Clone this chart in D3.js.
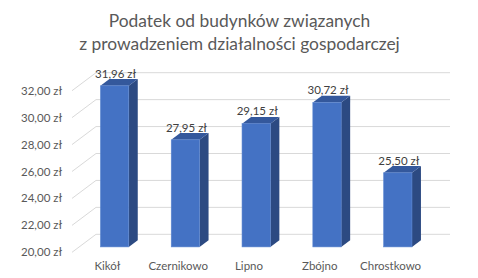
<!DOCTYPE html>
<html>
<head>
<meta charset="utf-8">
<script src="https://cdn.jsdelivr.net/npm/d3@7"></script>
<style>
  body { margin: 0; background: #fff; }
  svg { font-family: Lato, "Open Sans", sans-serif; }
</style>
</head>
<body>
<svg id="chart"></svg>
<script>
// Chart data
const titleLines = ['Podatek od budynków związanych', 'z prowadzeniem działalności gospodarczej'];
const categories = ['Kikół', 'Czernikowo', 'Lipno', 'Zbójno', 'Chrostkowo'];
const values = [31.96, 27.95, 29.15, 30.72, 25.50];
const yTicks = [20, 22, 24, 26, 28, 30, 32];

const width = 478, height = 278;
// depth of the back wall (oblique projection)
const depth = { dx: 24, dy: -18 };
const barFront = 0.3, barBack = 0.675;

const fmt = v => d3.format('.2f')(v).replace('.', ',') + ' zł';

const svg = d3.select('#chart')
    .attr('width', width)
    .attr('height', height);

// Scales on the front plane
const yScale = d3.scaleLinear()
    .domain([20, 32])
    .range([252.3, 90.7]);

const xScale = d3.scaleBand()
    .domain(categories)
    .range([72, 426])
    .padding(0);

const barW = xScale.bandwidth() * 0.4;

// Title
svg.selectAll('.title')
    .data(titleLines)
    .join('text')
        .attr('class', 'title')
        .attr('x', 239.5)
        .attr('y', (d, i) => 27 + i * 22.5)
        .attr('text-anchor', 'middle')
        .attr('font-size', '17.4px')
        .attr('fill', '#595959')
        .text(d => d);

// Grid: back wall horizontal lines + diagonal floor/side lines
const grid = svg.append('g').attr('class', 'grid');

grid.selectAll('.hline')
    .data(yTicks)
    .join('line')
        .attr('class', 'hline')
        .attr('x1', 72 + depth.dx)
        .attr('x2', 426 + depth.dx)
        .attr('y1', d => yScale(d) + depth.dy)
        .attr('y2', d => yScale(d) + depth.dy)
        .attr('stroke', '#D9D9D9')
        .attr('stroke-width', 1);

grid.selectAll('.dline')
    .data(yTicks)
    .join('line')
        .attr('class', 'dline')
        .attr('x1', 72)
        .attr('x2', 72 + depth.dx)
        .attr('y1', d => yScale(d))
        .attr('y2', d => yScale(d) + depth.dy)
        .attr('stroke', '#D9D9D9')
        .attr('stroke-width', 1);

// Y axis labels
svg.selectAll('.ylabel')
    .data(yTicks)
    .join('text')
        .attr('class', 'ylabel')
        .attr('x', 62)
        .attr('y', d => yScale(d))
        .attr('dy', '0.35em')
        .attr('text-anchor', 'end')
        .attr('font-size', '11.5px')
        .attr('fill', '#595959')
        .text(d => fmt(d));

// X axis labels
svg.selectAll('.xlabel')
    .data(categories)
    .join('text')
        .attr('class', 'xlabel')
        .attr('x', d => xScale(d) + xScale.bandwidth() / 2)
        .attr('y', 270)
        .attr('text-anchor', 'middle')
        .attr('font-size', '11.5px')
        .attr('fill', '#595959')
        .text(d => d);

// Bars
const bars = categories.map((c, i) => {
    const cx = xScale(c) + xScale.bandwidth() / 2 + depth.dx * barFront;
    const ox = depth.dx * (barBack - barFront);
    const oy = depth.dy * (barBack - barFront);
    const yTop = yScale(values[i]) + depth.dy * barFront;
    const yBot = yScale(20) + depth.dy * barFront;
    return { c, v: values[i], x0: cx - barW / 2, x1: cx + barW / 2, cx, ox, oy, yTop, yBot };
});

const barG = svg.append('g').attr('class', 'bars');

barG.selectAll('.side')
    .data(bars)
    .join('path')
        .attr('class', 'side')
        .attr('d', d => `M${d.x1},${d.yTop}L${d.x1 + d.ox},${d.yTop + d.oy}L${d.x1 + d.ox},${d.yBot + d.oy}L${d.x1},${d.yBot}Z`)
        .attr('fill', '#2C4A82');

barG.selectAll('.top')
    .data(bars)
    .join('path')
        .attr('class', 'top')
        .attr('d', d => `M${d.x0},${d.yTop}L${d.x0 + d.ox},${d.yTop + d.oy}L${d.x1 + d.ox},${d.yTop + d.oy}L${d.x1},${d.yTop}Z`)
        .attr('fill', '#34589C');

barG.selectAll('.front')
    .data(bars)
    .join('rect')
        .attr('class', 'front')
        .attr('x', d => d.x0)
        .attr('y', d => d.yTop)
        .attr('width', barW)
        .attr('height', d => d.yBot - d.yTop)
        .attr('fill', '#4472C4')
        .attr('stroke', '#5B86D0')
        .attr('stroke-width', 0.6);

// Data labels
svg.selectAll('.vlabel')
    .data(bars)
    .join('text')
        .attr('class', 'vlabel')
        .attr('x', d => d.cx + 1)
        .attr('y', d => d.yTop + d.oy - 1.5)
        .attr('text-anchor', 'middle')
        .attr('font-size', '11.5px')
        .attr('fill', '#404040')
        .text(d => fmt(d.v));
</script>
</body>
</html>
